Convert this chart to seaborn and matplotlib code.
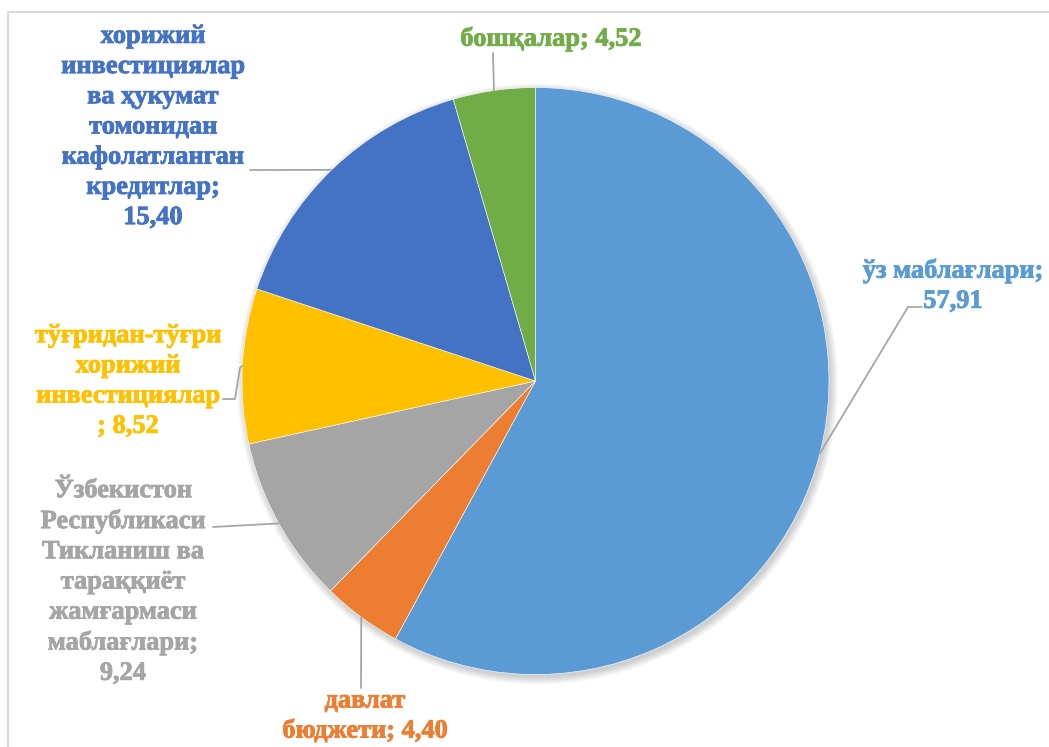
import numpy as np
import matplotlib.pyplot as plt
import matplotlib.patheffects as pe
import seaborn as sns

# shares of investment sources, %
labels = [
    "ўз маблағлари",
    "давлат бюджети",
    "Ўзбекистон Республикаси Тикланиш ва тараққиёт жамғармаси маблағлари",
    "тўғридан-тўғри хорижий инвестициялар",
    "хорижий инвестициялар ва ҳукумат томонидан кафолатланган кредитлар",
    "бошқалар",
]
values = [57.91, 4.40, 9.24, 8.52, 15.40, 4.52]
value_text = ["57,91", "4,40", "9,24", "8,52", "15,40", "4,52"]
colors = ["#5B9BD5", "#ED7D31", "#A5A5A5", "#FFC000", "#4472C4", "#70AD47"]

# label text as shown on the chart (wrapped like in the original)
label_text = [
    "ўз маблағлари;\n57,91",
    "давлат\nбюджети; 4,40",
    "Ўзбекистон\nРеспубликаси\nТикланиш ва\nтараққиёт\nжамғармаси\nмаблағлари;\n9,24",
    "тўғридан-тўғри\nхорижий\nинвестициялар\n; 8,52",
    "хорижий\nинвестициялар\nва ҳукумат\nтомонидан\nкафолатланган\nкредитлар;\n15,40",
    "бошқалар; 4,52",
]

W, H = 1049, 747

# layout in pixel coords (x, y from top): label centre, leader elbow points
label_pos = [(953, 286), (365, 716), (123, 582), (128, 381), (153, 127), (551, 39)]
leader_pts = [
    [(908, 307), (922, 307)],
    [(361, 688)],
    [(213, 527)],
    [(240, 368), (235, 399), (223, 399)],
    [(250, 170)],
    [(493, 53)],
]

cx, cy, R = 535.5, 381, 293.5
FONT = ["Liberation Serif", "DejaVu Serif"]


def fy(py):
    return H - py


sns.set_theme(style="white")
plt.rcParams['font.family'] = FONT

fig = plt.figure(figsize=(W / 100, H / 100), dpi=100)
ax = fig.add_axes([0, 0, 1, 1])

# soft shadow behind the pie
for i in range(8):
    ax.add_patch(plt.Circle((cx + 2, fy(cy) - 3), R + i, color="black",
                            alpha=0.025, lw=0, zorder=0))

wedges, _ = ax.pie(values, colors=colors, startangle=90, counterclock=False,
                   center=(cx, fy(cy)), radius=R, frame=True,
                   wedgeprops=dict(edgecolor="white", linewidth=0.4, zorder=1))
ax.set_xlim(0, W)
ax.set_ylim(0, H)
ax.set_aspect("equal")
ax.axis("off")

for w, txt, pos, pts, col in zip(wedges, label_text, label_pos, leader_pts, colors):
    mid = np.deg2rad((w.theta1 + w.theta2) / 2)
    ex, ey = cx + R * np.cos(mid), fy(cy) + R * np.sin(mid)
    xs = [ex] + [p[0] for p in pts]
    ys = [ey] + [fy(p[1]) for p in pts]
    ax.plot(xs, ys, color="#A6A6A6", lw=1.3, zorder=2)
    ax.text(pos[0], fy(pos[1]), txt, color=col, fontsize=19, fontweight="bold",
            family=FONT, ha="center", va="center", linespacing=1.4,
            path_effects=[pe.withStroke(linewidth=0.6, foreground=col)])

# chart area border (cropped at right/bottom)
ax.plot([8, 8, W], [0, fy(12), fy(12)], color="#D9D9D9", lw=1.5, clip_on=False)

fig.savefig("out.png", dpi=100)
